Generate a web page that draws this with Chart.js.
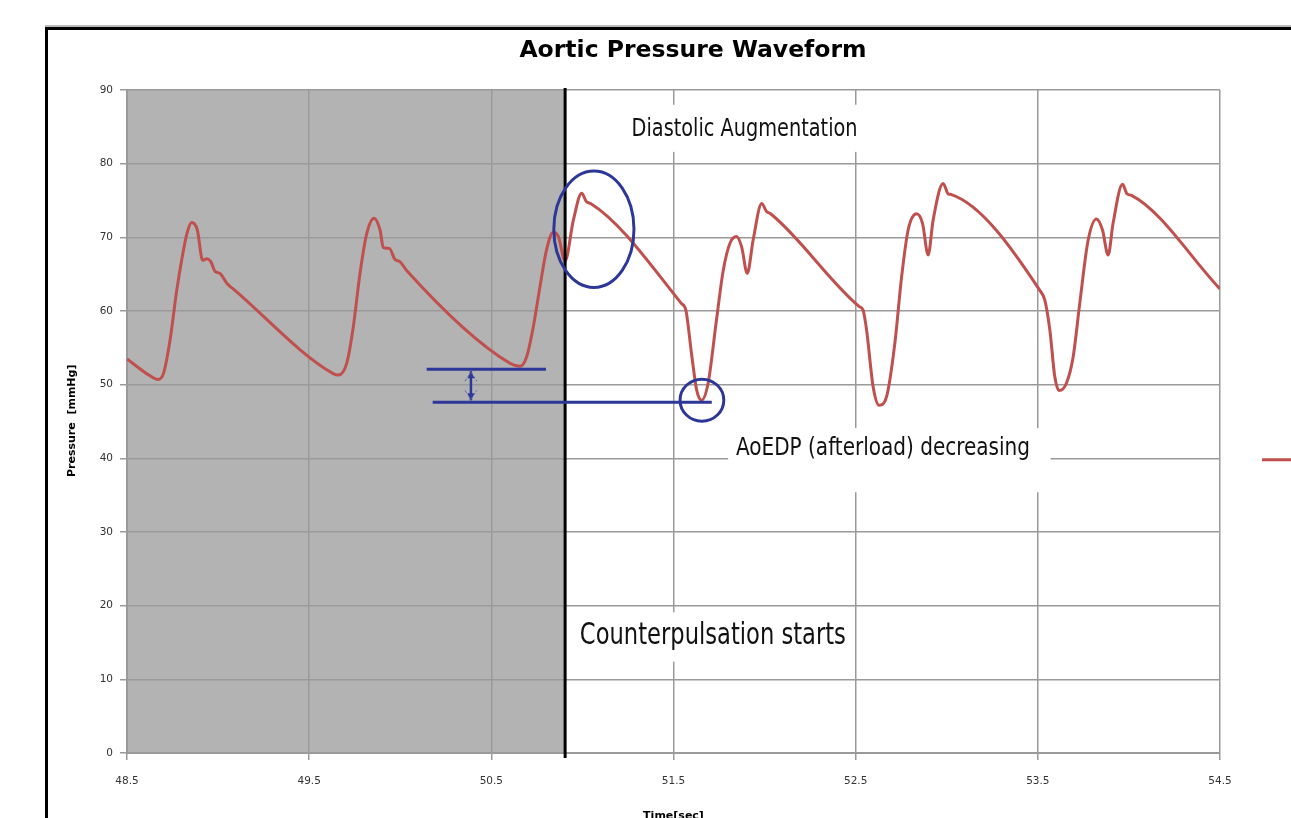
<!DOCTYPE html>
<html>
<head>
<meta charset="utf-8">
<script src="https://cdn.jsdelivr.net/npm/chart.js@4.4.1/dist/chart.umd.min.js"></script>
<style>
  html, body { margin: 0; padding: 0; background: #fff; overflow: hidden; width: 1291px; height: 818px; }
  #frame { position: absolute; left: 45px; top: 27px; width: 1400px; height: 900px; border: 3px solid #000; box-shadow: 0 -2px 0 #bbb; }
  #wrap { position: absolute; left: 0; top: 0; width: 1291px; height: 840px; }
</style>
</head>
<body>
<div id="frame"></div>
<div id="wrap"><canvas id="mainChart" width="1291" height="840"></canvas></div>
<script>
// time axis (sec) and aortic pressure (mmHg)
const times = [48.5, 48.62, 48.67, 48.70, 48.736, 48.773, 48.80, 48.83, 48.855, 48.886, 48.915, 48.94, 48.96, 48.983, 49.01, 49.05, 49.083,
  49.632, 49.66, 49.706, 49.742, 49.779, 49.816, 49.856, 49.889, 49.907, 49.94, 49.971, 49.998, 50.035,
  50.602, 50.657, 50.694, 50.73, 50.767, 50.803, 50.84, 50.868, 50.905, 50.95, 50.996, 51.023, 51.045,
  51.544, 51.568, 51.599, 51.627, 51.654, 51.69, 51.736, 51.773, 51.81, 51.846, 51.874, 51.905, 51.937, 51.984, 52.011, 52.033,
  52.52, 52.541, 52.56, 52.596, 52.629, 52.67, 52.715, 52.752, 52.788, 52.834, 52.867, 52.898, 52.925, 52.98, 53.008, 53.026,
  53.511, 53.538, 53.566, 53.593, 53.617, 53.657, 53.694, 53.73, 53.776, 53.822, 53.855, 53.886, 53.913, 53.965, 53.99, 54.014, 54.5];
const pressures = [53.5, 51.3, 50.7, 51.5, 56.0, 62.8, 66.9, 70.6, 72.0, 71.0, 66.9, 67.1, 66.7, 65.4, 65.1, 63.7, 63.0,
  51.5, 51.3, 52.9, 57.8, 65.1, 70.5, 72.6, 71.0, 68.6, 68.5, 67.0, 66.7, 65.5,
  52.9, 52.5, 53.8, 57.8, 63.3, 68.3, 70.7, 70.1, 66.8, 72.3, 76.0, 74.8, 74.6,
  61.0, 60.1, 54.2, 49.3, 47.9, 50.2, 58.8, 65.5, 69.2, 70.1, 68.7, 65.1, 69.6, 74.6, 73.5, 73.2,
  60.6, 60.1, 57.4, 49.7, 47.2, 48.4, 55.6, 64.6, 71.0, 73.2, 71.9, 67.6, 72.3, 77.3, 75.9, 75.8,
  62.8, 61.5, 57.4, 51.1, 49.2, 50.2, 53.8, 61.0, 69.6, 72.5, 71.0, 67.6, 71.9, 77.2, 75.9, 75.7, 63.0];

const xTicks = [48.5, 49.5, 50.5, 51.5, 52.5, 53.5, 54.5];
const yTicks = [0, 10, 20, 30, 40, 50, 60, 70, 80, 90];

const pumpStart = 50.905;   // counterpulsation starts (sec)
const preEDP = 52.1;        // end-diastolic pressure before pumping
const augEDP = 47.6;        // end-diastolic pressure with pumping

const blue = '#2c3797';
const red = '#c0504d';
const noteFont = '"Liberation Sans Narrow", "DejaVu Sans Condensed", "DejaVu Sans", sans-serif';

const overlay = {
  id: 'overlay',
  beforeDraw(chart) {
    const {ctx, chartArea, scales: {x}} = chart;
    ctx.save();
    ctx.fillStyle = '#b3b3b3';
    ctx.fillRect(chartArea.left, chartArea.top, x.getPixelForValue(pumpStart) - chartArea.left, chartArea.bottom - chartArea.top);
    ctx.restore();
  },
  afterDraw(chart) {
    const {ctx, chartArea, scales: {x, y}} = chart;
    const px = v => x.getPixelForValue(v);
    const py = v => y.getPixelForValue(v);
    ctx.save();

    // start line
    ctx.strokeStyle = '#000';
    ctx.lineWidth = 3;
    ctx.beginPath();
    ctx.moveTo(px(pumpStart), chartArea.top - 2);
    ctx.lineTo(px(pumpStart), chartArea.bottom + 5);
    ctx.stroke();

    // white label boxes
    ctx.fillStyle = '#fff';
    const box = (t0, t1, v0, v1) => ctx.fillRect(px(t0), py(v0), px(t1) - px(t0), py(v1) - py(v0));
    box(51.23, 52.55, 88, 81.6);
    box(51.80, 53.57, 44.1, 35.4);
    box(50.94, 52.45, 19.1, 12.4);

    // texts (condensed to the widths in the picture)
    ctx.fillStyle = '#111';
    ctx.textBaseline = 'middle';
    ctx.textAlign = 'left';
    ctx.font = '25px ' + noteFont;
    ctx.fillText('Diastolic Augmentation', px(51.27), py(84.6), 226);
    ctx.fillText('AoEDP (afterload) decreasing', px(51.843), py(41.3), 294);
    ctx.font = '31px ' + noteFont;
    ctx.fillText('Counterpulsation starts', px(50.986), py(15.9), 266);

    // blue marks
    ctx.strokeStyle = blue;
    ctx.lineWidth = 3;
    ctx.beginPath();
    ctx.ellipse(px(51.063), py(71.1), px(51.063 + 0.22) - px(51.063), py(71.1 - 7.9) - py(71.1), 0, 0, Math.PI * 2);
    ctx.stroke();
    ctx.beginPath();
    ctx.ellipse(px(51.656), py(47.9), px(51.656 + 0.12) - px(51.656), py(47.9 - 2.85) - py(47.9), 0, 0, Math.PI * 2);
    ctx.stroke();

    ctx.lineWidth = 3;
    ctx.beginPath();
    ctx.moveTo(px(50.145), py(preEDP));
    ctx.lineTo(px(50.80), py(preEDP));
    ctx.moveTo(px(50.178), py(augEDP));
    ctx.lineTo(px(51.71), py(augEDP));
    ctx.stroke();

    // arrow between the two levels
    const ax = px(50.388);
    const ya = py(preEDP) + 2, yb = py(augEDP) - 2;
    ctx.lineWidth = 2.5;
    ctx.beginPath();
    ctx.moveTo(ax, ya); ctx.lineTo(ax, yb);
    ctx.stroke();
    ctx.fillStyle = blue;
    ctx.beginPath();
    ctx.moveTo(ax, ya); ctx.lineTo(ax - 3.5, ya + 7); ctx.lineTo(ax + 3.5, ya + 7); ctx.closePath();
    ctx.moveTo(ax, yb); ctx.lineTo(ax - 3.5, yb - 7); ctx.lineTo(ax + 3.5, yb - 7); ctx.closePath();
    ctx.fill();
    ctx.strokeStyle = '#5a64b0';
    ctx.lineWidth = 1;
    ctx.setLineDash([3, 2]);
    ctx.beginPath();
    ctx.moveTo(ax - 6, ya + 10); ctx.lineTo(ax, ya + 1); ctx.lineTo(ax + 6, ya + 10);
    ctx.moveTo(ax - 6, yb - 10); ctx.lineTo(ax, yb - 1); ctx.lineTo(ax + 6, yb - 10);
    ctx.stroke();
    ctx.setLineDash([]);

    // title
    ctx.fillStyle = '#000';
    ctx.textAlign = 'center';
    ctx.font = 'bold 23.5px "DejaVu Sans", sans-serif';
    ctx.fillText('Aortic Pressure Waveform', 693, 51, 350);

    // axis titles
    ctx.font = 'bold 11px "DejaVu Sans", sans-serif';
    ctx.fillText('Time[sec]', px(51.5), 816);
    ctx.translate(72, py(45.1));
    ctx.rotate(-Math.PI / 2);
    ctx.fillText('Pressure  [mmHg]', 0, 0);
    ctx.restore();

    // legend sample (text runs off the page)
    ctx.save();
    ctx.strokeStyle = red;
    ctx.lineWidth = 3;
    ctx.beginPath();
    ctx.moveTo(1262, py(39.8));
    ctx.lineTo(1300, py(39.8));
    ctx.stroke();
    ctx.restore();
  }
};

new Chart(document.getElementById('mainChart'), {
  type: 'scatter',
  data: {
    datasets: [{
      label: 'Aortic Pressure',
      data: times.map((t, i) => ({x: t, y: pressures[i]})),
      showLine: true,
      borderColor: red,
      borderWidth: 3,
      pointRadius: 0,
      cubicInterpolationMode: 'monotone'
    }]
  },
  options: {
    responsive: false,
    animation: false,
    layout: { padding: { top: 90, left: 0, right: 71, bottom: 0 } },
    plugins: { legend: { display: false }, title: { display: false }, tooltip: { enabled: false } },
    scales: {
      x: {
        type: 'linear', min: 48.5, max: 54.5,
        afterBuildTicks: s => { s.ticks = xTicks.map(v => ({value: v})); },
        afterFit: s => { s.height = 87; },
        grid: { color: '#9a9a9a', lineWidth: 1.5, tickLength: 7, tickColor: '#9a9a9a' },
        border: { color: '#9a9a9a', width: 2 },
        ticks: { color: '#333', font: { family: 'DejaVu Sans', size: 10.5 }, padding: 15, maxRotation: 0, callback: v => v.toFixed(1) }
      },
      y: {
        min: 0, max: 90,
        afterBuildTicks: s => { s.ticks = yTicks.map(v => ({value: v})); },
        afterFit: s => { s.width = 127; },
        grid: { color: '#9a9a9a', lineWidth: 1.5, tickLength: 7, tickColor: '#9a9a9a' },
        border: { color: '#9a9a9a', width: 2 },
        ticks: { color: '#333', font: { family: 'DejaVu Sans', size: 10.5 }, padding: 7 }
      }
    }
  },
  plugins: [overlay]
});
</script>
</body>
</html>
